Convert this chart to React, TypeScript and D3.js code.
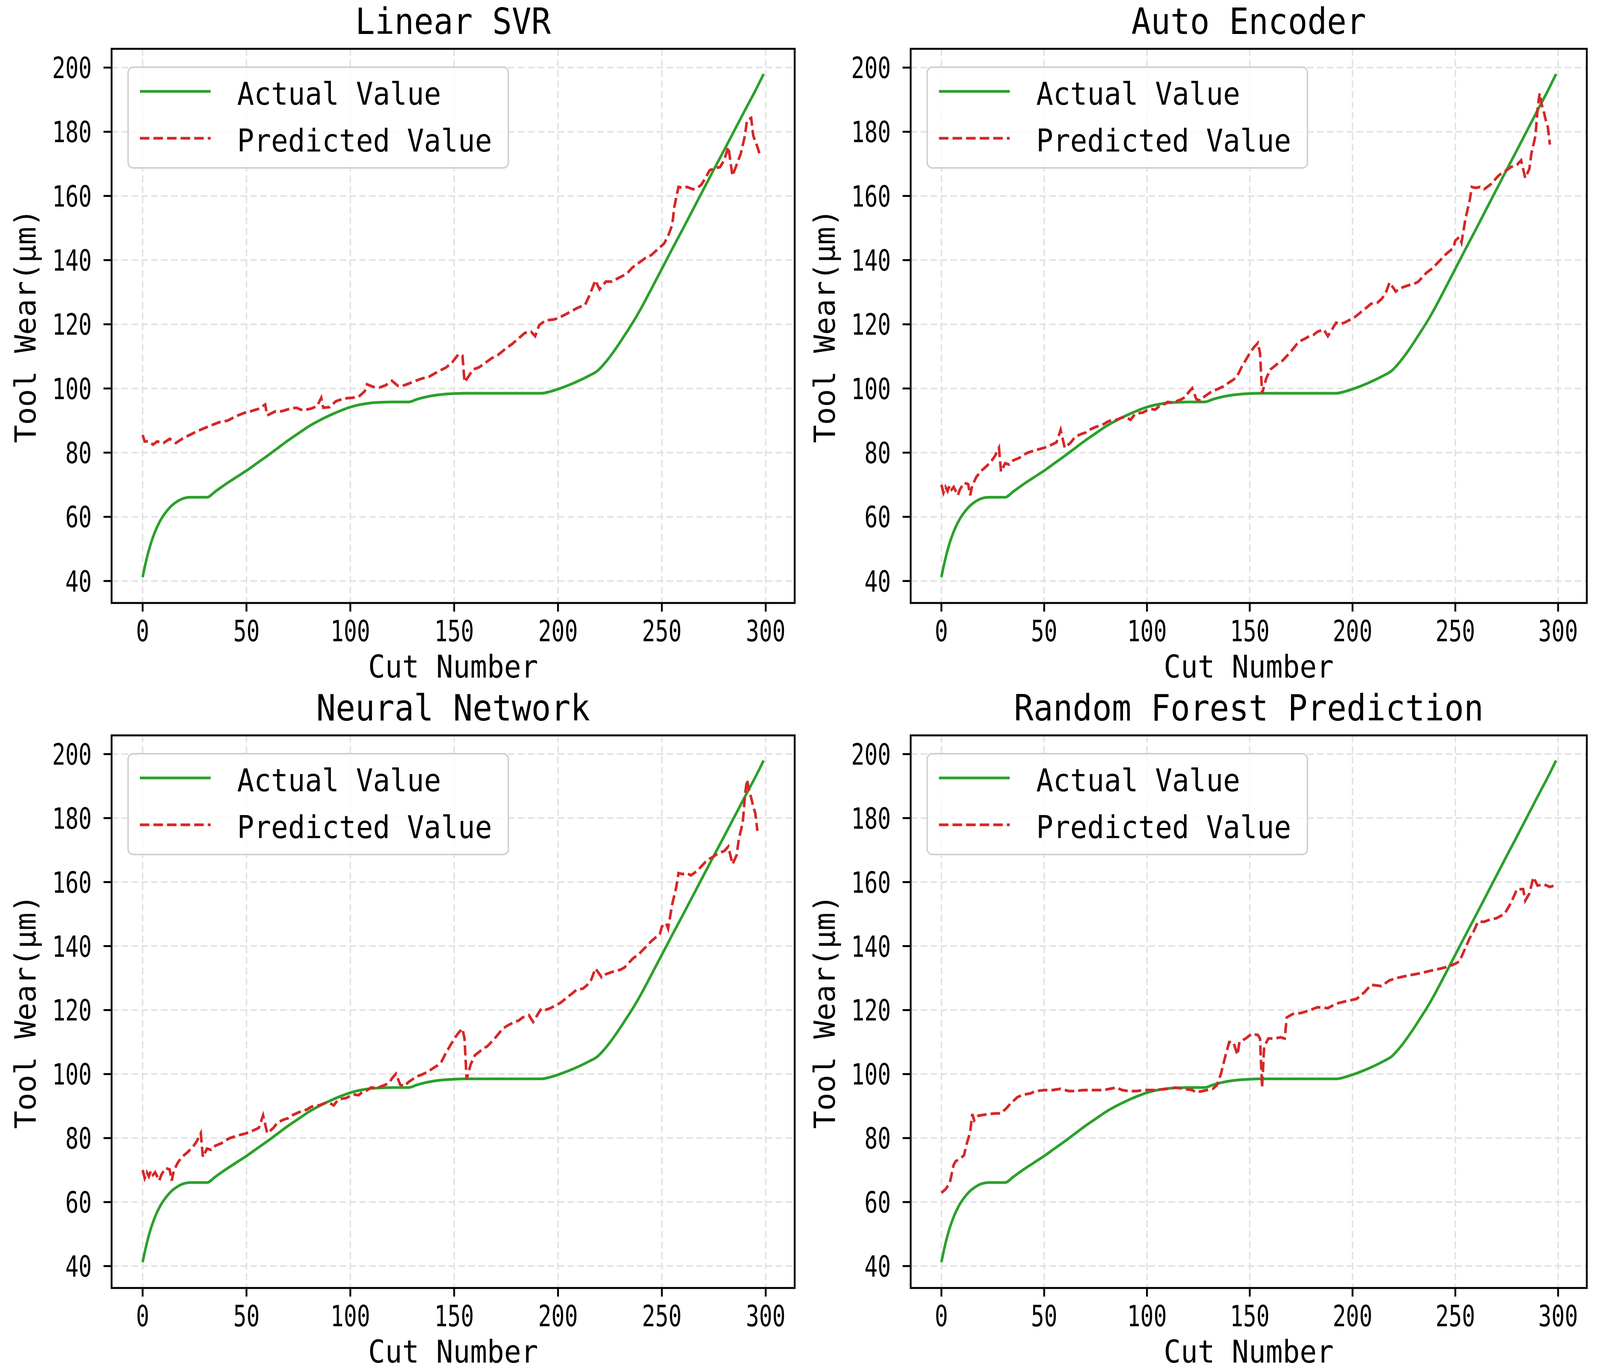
import React, { useEffect, useRef } from "react";
import * as d3 from "d3";

type Pt = [number, number];

const W = 4359;
const H = 3508;

const titles = ["Linear SVR", "Auto Encoder", "Neural Network", "Random Forest Prediction"];
const xTicks = [0, 50, 100, 150, 200, 250, 300];
const yTicks = [40, 60, 80, 100, 120, 140, 160, 180, 200];
const legendLabels = ["Actual Value", "Predicted Value"];

// measured tool wear, the same curve in every panel
const actualWear: Pt[] = [
  [0, 41.2], [1, 44.3], [2, 47.1], [3, 49.6], [4, 51.8], [5, 53.7], [6, 55.4], [7, 56.9],
  [8, 58.2], [9, 59.4], [10, 60.4], [12, 62.1], [14, 63.5], [16, 64.5], [18, 65.3], [20, 65.8],
  [23, 66.1], [31, 66.1], [35, 67.9], [40, 70.2], [45, 72.3], [50, 74.4], [55, 76.7], [60, 79],
  [65, 81.4], [70, 83.8], [75, 86], [80, 88.2], [85, 90], [90, 91.6], [95, 93], [100, 94.2],
  [105, 95], [110, 95.5], [115, 95.7], [120, 95.8], [128, 95.8], [132, 96.6], [136, 97.3],
  [140, 97.8], [145, 98.2], [150, 98.4], [155, 98.5], [170, 98.5], [192, 98.5], [196, 99],
  [200, 99.8], [205, 101], [210, 102.4], [215, 104], [219, 105.5], [222, 107.5], [225, 109.9],
  [228, 112.6], [231, 115.5], [234, 118.5], [237, 121.6], [240, 125], [245, 131.1], [250, 137.3],
  [255, 143.5], [260, 149.6], [265, 155.8], [270, 162], [275, 168.2], [280, 174.3], [285, 180.5],
  [290, 186.7], [295, 192.8], [299, 198],
];

const svrPred: Pt[] = [
  [0, 85.5], [1, 83.5], [3, 83.5], [5, 82.5], [7, 83.5], [10, 83], [13, 84.3], [16, 83],
  [19, 84.3], [22, 85.3], [26, 86.6], [30, 87.7], [33, 88.5], [37, 89.5], [41, 90], [45, 91.4],
  [49, 92.4], [52, 92.9], [56, 93.7], [59, 95], [60, 91.6], [64, 92.9], [67, 92.9], [71, 93.7],
  [74, 94], [77, 93.2], [81, 93.7], [84, 94.5], [86, 97.1], [87, 94], [90, 94.2], [93, 96],
  [97, 96.9], [101, 97.1], [104, 97.4], [107, 99.2], [108, 101.3], [111, 100.5], [114, 100.3],
  [117, 101], [120, 102.4], [123, 100.8], [126, 101], [130, 102], [134, 103], [138, 103.7],
  [142, 105.2], [146, 106.5], [149, 108.1], [152, 110.6], [154, 110.2], [155, 102], [157, 103.8],
  [159, 105.9], [162, 106.6], [165, 108], [168, 109.4], [171, 110.4], [175, 112.5], [178, 113.9],
  [181, 115.6], [184, 117.3], [187, 117.7], [189, 116.3], [191, 119.8], [194, 121.2], [198, 121.5],
  [200, 121.9], [204, 123.2], [207, 124.3], [210, 125.3], [213, 126], [215, 128.8], [218, 133.7],
  [220, 130.9], [223, 133.3], [226, 133.3], [229, 134.4], [233, 135.7], [236, 137.8], [239, 139.2],
  [242, 140.6], [245, 141.6], [248, 143.4], [251, 145.1], [253, 147.5], [255, 151], [256, 156.6],
  [258, 162.8], [260, 162.5], [262, 162.8], [265, 162.1], [267, 162.5], [269, 163.5], [271, 165.6],
  [273, 168], [276, 168.7], [278, 169], [280, 171.1], [282, 175.3], [284, 166.3], [286, 169.7],
  [288, 173.2], [290, 178.8], [291, 183.6], [293, 184.3], [294, 178.8], [296, 175.3], [297, 173.2],
  [298, 173.6],
];

const aePred: Pt[] = [
  [0, 70], [1, 67.5], [2, 69.3], [3, 68], [4, 69.8], [5, 68.5], [6, 69.3], [7, 68], [8, 66.7],
  [9, 68.5], [11, 70.6], [13, 70.2], [14, 66.7], [15, 69.8], [17, 72.4], [19, 74.1], [22, 75.8],
  [24, 77.1], [26, 78.9], [28, 81.5], [29, 74.1], [31, 76.7], [33, 76.3], [35, 77.6], [38, 78.4],
  [40, 79.3], [42, 80], [45, 80.6], [47, 81], [50, 81.5], [53, 82.3], [56, 83.2], [58, 87.1],
  [60, 81.5], [63, 83.2], [65, 84.9], [68, 85.8], [70, 86.2], [72, 87.1], [75, 88], [77, 88.4],
  [79, 88.9], [81, 89.7], [83, 90.2], [85, 90.2], [88, 91], [90, 91], [92, 90.2], [94, 91.9],
  [96, 92.3], [98, 92.5], [100, 93.2], [102, 93.6], [104, 93.4], [106, 94.5], [108, 94.9],
  [110, 95.8], [113, 95.6], [115, 96.2], [117, 96.7], [119, 97.5], [120, 98.6], [122, 100.1],
  [124, 96.7], [126, 96.2], [128, 97.5], [130, 98.4], [132, 99.3], [134, 99.7], [137, 100.6],
  [140, 101.9], [142, 102.7], [144, 104], [146, 106.6], [148, 108.8], [150, 111], [152, 112.8],
  [154, 114.2], [155, 111], [156, 98.4], [158, 103.1], [160, 105.9], [162, 106.9], [164, 108],
  [166, 108.7], [168, 110.1], [170, 111.5], [173, 113.9], [175, 114.9], [177, 115.6], [179, 116.3],
  [181, 116.7], [183, 117.7], [186, 118.4], [188, 116.3], [190, 118.4], [192, 120.5], [194, 120.1],
  [196, 120.5], [199, 121.5], [201, 122.2], [203, 123.2], [205, 124.3], [207, 125.3], [209, 126.4],
  [212, 126.7], [214, 127.8], [216, 129.5], [218, 133], [220, 131.2], [221, 130.2], [223, 131.2],
  [226, 131.9], [228, 132.3], [230, 132.6], [232, 133.3], [234, 134.7], [236, 136.1], [239, 137.5],
  [241, 138.9], [243, 140.2], [245, 141.6], [247, 142.7], [249, 143.7], [250, 146.1], [252, 147.2],
  [253, 145.5], [255, 153.1], [257, 158.6], [258, 162.8], [260, 162.5], [262, 162.8], [264, 162.1],
  [267, 163.5], [269, 164.9], [271, 166.3], [273, 167.3], [275, 168], [277, 169], [280, 169.7],
  [282, 171.1], [284, 165.6], [286, 168.4], [287, 173.2], [289, 178.8], [290, 187.1], [291, 192],
  [292, 188.5], [293, 186.4], [294, 183.6], [295, 181.5], [296, 176],
];

// the neural network panel reads the same as the auto encoder one
const nnPred: Pt[] = aePred.map((p) => [p[0], p[1]] as Pt);

const rfPred: Pt[] = [
  [0, 62.9], [2, 64], [4, 65.8], [6, 71.7], [7, 72.8], [9, 73.5], [11, 74.6], [12, 77.5],
  [14, 81.9], [15, 87.5], [16, 85.5], [18, 87], [22, 87.4], [26, 87.7], [29, 87.7], [32, 89.6],
  [34, 91], [37, 92.8], [40, 93.6], [43, 93.9], [46, 94.7], [50, 95], [54, 95], [58, 95.4],
  [62, 94.7], [65, 94.7], [69, 95], [74, 95], [79, 95], [85, 95.8], [88, 95], [91, 94.7],
  [95, 94.7], [99, 95], [104, 95], [110, 95.4], [114, 95.8], [118, 95.4], [122, 95], [124, 94.3],
  [127, 94.7], [132, 95.4], [134, 96.5], [136, 100.1], [138, 105.3], [140, 110], [142, 110],
  [144, 106], [145, 110], [148, 111.1], [151, 112.6], [154, 112.2], [155, 111.1], [156, 95.8],
  [157, 108.5], [159, 111.1], [162, 111.1], [165, 111.5], [167, 111.1], [168, 117.7], [171, 118.8],
  [175, 119.1], [179, 119.9], [183, 120.9], [188, 120.6], [192, 122], [197, 122.8], [202, 123.5],
  [206, 125.7], [209, 127.9], [214, 127.5], [218, 129.3], [222, 130.1], [227, 130.8], [233, 131.5],
  [238, 132.3], [243, 133], [247, 133.7], [250, 134.5], [252, 135.2], [254, 138.1], [257, 142.5],
  [259, 144.7], [261, 147.6], [264, 147.6], [267, 148.3], [270, 148.7], [274, 150.1], [277, 153.4],
  [280, 157.8], [283, 157.8], [284, 154.2], [286, 156.4], [288, 161.5], [290, 158.9], [293, 159.3],
  [296, 158.5], [298, 158.9],
];

const predictions = [svrPred, aePred, nnPred, rfPred];

// axes boxes in chart pixels
const boxes = [
  { left: 304, right: 2165, top: 125, bottom: 1544 },
  { left: 2481, right: 4323, top: 125, bottom: 1544 },
  { left: 304, right: 2165, top: 1883, bottom: 3298 },
  { left: 2481, right: 4323, top: 1883, bottom: 3298 },
];

const FONT = "'DejaVu Sans Mono', monospace";
const GREEN = "#2ca02c";
const RED = "#d62728";

export default function App() {
  const ref = useRef<SVGSVGElement | null>(null);

  useEffect(() => {
    const svg = d3.select(ref.current);
    svg.selectAll("*").remove();
    svg.append("rect").attr("width", W).attr("height", H).attr("fill", "#fff");

    boxes.forEach((box, i) => {
      const x = d3.scaleLinear().domain([-14.95, 313.95]).range([box.left, box.right]);
      const y = d3.scaleLinear().domain([33.15, 205.85]).range([box.bottom, box.top]);
      const g = svg.append("g");

      // grid
      g.selectAll(".gx")
        .data(xTicks)
        .join("line")
        .attr("class", "gx")
        .attr("x1", (d) => x(d))
        .attr("x2", (d) => x(d))
        .attr("y1", box.top)
        .attr("y2", box.bottom)
        .attr("stroke", "#e2e2e2")
        .attr("stroke-width", 4)
        .attr("stroke-dasharray", "18,9");
      g.selectAll(".gy")
        .data(yTicks)
        .join("line")
        .attr("class", "gy")
        .attr("x1", box.left)
        .attr("x2", box.right)
        .attr("y1", (d) => y(d))
        .attr("y2", (d) => y(d))
        .attr("stroke", "#e2e2e2")
        .attr("stroke-width", 4)
        .attr("stroke-dasharray", "18,9");

      const line = d3
        .line<Pt>()
        .x((d) => x(d[0]))
        .y((d) => y(d[1]));

      g.append("path")
        .datum(actualWear)
        .attr("d", line.curve(d3.curveMonotoneX))
        .attr("fill", "none")
        .attr("stroke", GREEN)
        .attr("stroke-width", 7);

      g.append("path")
        .datum(predictions[i])
        .attr("d", line.curve(d3.curveLinear))
        .attr("fill", "none")
        .attr("stroke", RED)
        .attr("stroke-width", 7)
        .attr("stroke-dasharray", "26,11");

      // spines
      g.append("rect")
        .attr("x", box.left)
        .attr("y", box.top)
        .attr("width", box.right - box.left)
        .attr("height", box.bottom - box.top)
        .attr("fill", "none")
        .attr("stroke", "#000")
        .attr("stroke-width", 5);

      // ticks and tick labels
      g.selectAll(".tx")
        .data(xTicks)
        .join("line")
        .attr("class", "tx")
        .attr("x1", (d) => x(d))
        .attr("x2", (d) => x(d))
        .attr("y1", box.bottom)
        .attr("y2", box.bottom + 22)
        .attr("stroke", "#000")
        .attr("stroke-width", 5);
      g.selectAll(".lx")
        .data(xTicks)
        .join("text")
        .attr("class", "lx")
        .attr("x", (d) => x(d))
        .attr("y", box.bottom + 98)
        .attr("text-anchor", "middle")
        .attr("font-family", FONT)
        .attr("font-size", 74)
        .attr("textLength", (d) => String(d).length * 36)
        .attr("lengthAdjust", "spacingAndGlyphs")
        .text((d) => String(d));

      g.selectAll(".ty")
        .data(yTicks)
        .join("line")
        .attr("class", "ty")
        .attr("x1", box.left - 22)
        .attr("x2", box.left)
        .attr("y1", (d) => y(d))
        .attr("y2", (d) => y(d))
        .attr("stroke", "#000")
        .attr("stroke-width", 5);
      g.selectAll(".ly")
        .data(yTicks)
        .join("text")
        .attr("class", "ly")
        .attr("x", box.left - 54)
        .attr("y", (d) => y(d) + 27)
        .attr("text-anchor", "end")
        .attr("font-family", FONT)
        .attr("font-size", 74)
        .attr("textLength", (d) => String(d).length * 36)
        .attr("lengthAdjust", "spacingAndGlyphs")
        .text((d) => String(d));

      const cx = (box.left + box.right) / 2;
      const cy = (box.top + box.bottom) / 2;

      g.append("text")
        .attr("x", cx)
        .attr("y", box.top - 38)
        .attr("text-anchor", "middle")
        .attr("font-family", FONT)
        .attr("font-size", 92)
        .attr("textLength", titles[i].length * 53.3)
        .attr("lengthAdjust", "spacingAndGlyphs")
        .text(titles[i]);

      g.append("text")
        .attr("x", cx)
        .attr("y", box.bottom + 191)
        .attr("text-anchor", "middle")
        .attr("font-family", FONT)
        .attr("font-size", 80)
        .attr("textLength", 463)
        .attr("lengthAdjust", "spacingAndGlyphs")
        .text("Cut Number");

      g.append("text")
        .attr("transform", `translate(${box.left - 207},${cy}) rotate(-90)`)
        .attr("text-anchor", "middle")
        .attr("font-family", FONT)
        .attr("font-size", 80)
        .attr("textLength", 600)
        .attr("lengthAdjust", "spacingAndGlyphs")
        .text("Tool Wear(μm)");

      // legend, upper left
      const lg = g.append("g").attr("transform", `translate(${box.left + 45},${box.top + 47})`);
      lg.append("rect")
        .attr("width", 1036)
        .attr("height", 258)
        .attr("rx", 14)
        .attr("fill", "#fff")
        .attr("fill-opacity", 0.8)
        .attr("stroke", "#d0d0d0")
        .attr("stroke-width", 4);
      legendLabels.forEach((label, k) => {
        const ly = 62 + k * 120;
        lg.append("line")
          .attr("x1", 32)
          .attr("x2", 225)
          .attr("y1", ly)
          .attr("y2", ly)
          .attr("stroke", k === 0 ? GREEN : RED)
          .attr("stroke-width", 7)
          .attr("stroke-dasharray", k === 0 ? null : "26,11");
        lg.append("text")
          .attr("x", 297)
          .attr("y", ly + 34)
          .attr("font-family", FONT)
          .attr("font-size", 80)
          .attr("textLength", label.length * 46.3)
          .attr("lengthAdjust", "spacingAndGlyphs")
          .text(label);
      });
    });
  }, []);

  // fit the chart to the visible page, whatever its exact size
  return (
    <svg
      ref={ref}
      width="100vw"
      height="100vh"
      viewBox={`0 0 ${W} ${H}`}
      preserveAspectRatio="none"
      style={{ position: "absolute", left: 0, top: 0, display: "block" }}
    />
  );
}
